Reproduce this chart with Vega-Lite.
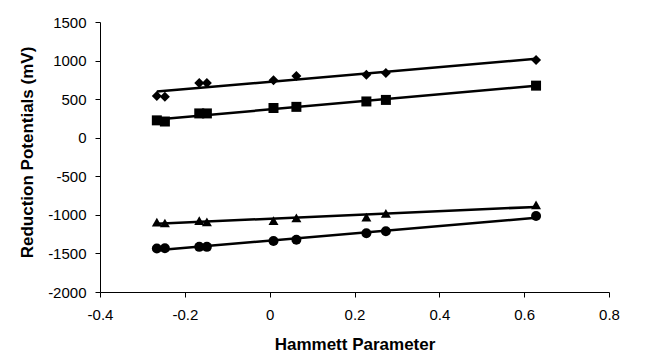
{
  "$schema": "https://vega.github.io/schema/vega-lite/v6.json",
  "width": 509,
  "height": 270,
  "autosize": {"type": "none"},
  "padding": {"left": 100, "top": 22, "right": 43, "bottom": 65},
  "background": "white",
  "config": {
    "view": {"stroke": null},
    "font": "Liberation Sans",
    "locale": {"number": {"decimal": ".", "thousands": ",", "grouping": [3], "currency": ["$", ""], "minus": "-"}},
    "axis": {
      "grid": false,
      "domainColor": "black",
      "tickColor": "black",
      "tickSize": 5,
      "labelColor": "black",
      "labelFontSize": 15,
      "labelFont": "Liberation Sans",
      "labelOverlap": false,
      "labelFlush": false,
      "titleFont": "Liberation Sans",
      "titleFontSize": 17,
      "titleFontWeight": "bold",
      "titleColor": "black"
    }
  },
  "data": {
    "values": [
      {"series": "A", "hammett": -0.266, "potential": 541},
      {"series": "A", "hammett": -0.247, "potential": 532},
      {"series": "A", "hammett": -0.166, "potential": 710},
      {"series": "A", "hammett": -0.148, "potential": 710},
      {"series": "A", "hammett": 0.009, "potential": 745},
      {"series": "A", "hammett": 0.063, "potential": 800},
      {"series": "A", "hammett": 0.228, "potential": 815},
      {"series": "A", "hammett": 0.274, "potential": 840},
      {"series": "A", "hammett": 0.628, "potential": 1007},
      {"series": "B", "hammett": -0.266, "potential": 225},
      {"series": "B", "hammett": -0.247, "potential": 210},
      {"series": "B", "hammett": -0.166, "potential": 315},
      {"series": "B", "hammett": -0.148, "potential": 315},
      {"series": "B", "hammett": 0.009, "potential": 385},
      {"series": "B", "hammett": 0.063, "potential": 400},
      {"series": "B", "hammett": 0.228, "potential": 470},
      {"series": "B", "hammett": 0.274, "potential": 490},
      {"series": "B", "hammett": 0.628, "potential": 675},
      {"series": "C", "hammett": -0.266, "potential": -1095},
      {"series": "C", "hammett": -0.247, "potential": -1105},
      {"series": "C", "hammett": -0.166, "potential": -1075},
      {"series": "C", "hammett": -0.148, "potential": -1090},
      {"series": "C", "hammett": 0.009, "potential": -1075},
      {"series": "C", "hammett": 0.063, "potential": -1040},
      {"series": "C", "hammett": 0.228, "potential": -1030},
      {"series": "C", "hammett": 0.274, "potential": -980},
      {"series": "C", "hammett": 0.628, "potential": -870},
      {"series": "D", "hammett": -0.266, "potential": -1435},
      {"series": "D", "hammett": -0.247, "potential": -1432},
      {"series": "D", "hammett": -0.166, "potential": -1415},
      {"series": "D", "hammett": -0.148, "potential": -1415},
      {"series": "D", "hammett": 0.009, "potential": -1340},
      {"series": "D", "hammett": 0.063, "potential": -1322},
      {"series": "D", "hammett": 0.228, "potential": -1238},
      {"series": "D", "hammett": 0.274, "potential": -1212},
      {"series": "D", "hammett": 0.628, "potential": -1015}
    ]
  },
  "encoding": {
    "x": {
      "field": "hammett",
      "type": "quantitative",
      "scale": {"domain": [-0.4, 0.8], "nice": false, "zero": false},
      "axis": {"values": [-0.4, -0.2, 0, 0.2, 0.4, 0.6, 0.8], "format": "~g", "labelPadding": 10, "title": "Hammett Parameter", "titleBaseline": "alphabetic", "titleY": 57}
    },
    "y": {
      "field": "potential",
      "type": "quantitative",
      "scale": {"domain": [-2000, 1500], "nice": false, "zero": false},
      "axis": {"values": [-2000, -1500, -1000, -500, 0, 500, 1000, 1500], "format": "d", "labelPadding": 9, "title": "Reduction Potentials (mV)", "titleBaseline": "middle", "titleX": -73, "titleY": 130}
    }
  },
  "layer": [
    {
      "transform": [{"regression": "potential", "on": "hammett", "groupby": ["series"]}],
      "mark": {"type": "line", "color": "black", "strokeWidth": 2.5},
      "encoding": {
        "detail": {"field": "series"}
      }
    },
    {
      "mark": {"type": "point", "filled": true, "color": "black", "opacity": 1, "size": 100},
      "encoding": {
        "shape": {
          "field": "series",
          "type": "nominal",
          "scale": {"domain": ["A", "B", "C", "D"], "range": ["diamond", "square", "triangle-up", "circle"]},
          "legend": null
        }
      }
    }
  ]
}
